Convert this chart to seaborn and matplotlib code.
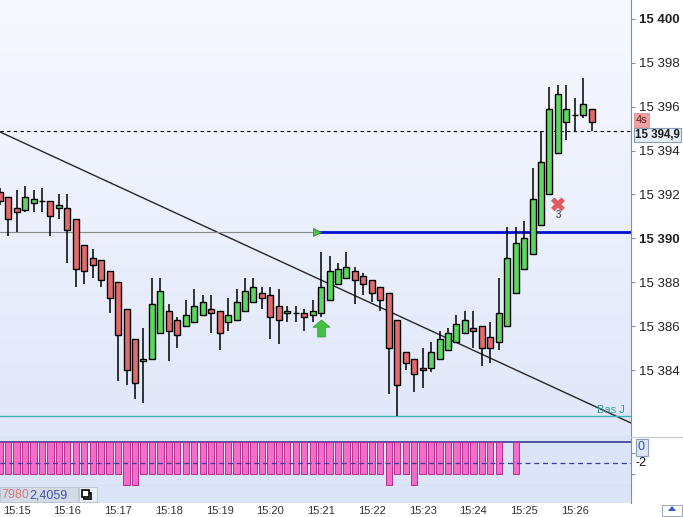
import numpy as np
import pandas as pd
import matplotlib
matplotlib.use("Agg")
import matplotlib.pyplot as plt
from matplotlib.path import Path
from matplotlib.patches import Rectangle, Polygon
from matplotlib.lines import Line2D
from matplotlib.colors import LinearSegmentedColormap
import seaborn as sns

# 10 second candles, first one opens at 15:14:40
start = "2023-01-01 15:14:40"
opens = [15392.1, 15391.9, 15391.4, 15391.3, 15391.6, 15391.7, 15391.7, 15391.4, 15391.4, 15390.9,
         15389.7, 15389.1, 15389.0, 15388.5, 15388.0, 15386.8, 15385.4, 15384.4, 15384.5, 15385.7,
         15386.7, 15386.3, 15386.0, 15386.2, 15386.5, 15386.8, 15386.7, 15386.2, 15386.3, 15386.7,
         15387.1, 15387.5, 15387.4, 15386.9, 15386.6, 15386.6, 15386.6, 15386.5, 15386.6, 15387.2,
         15387.9, 15388.2, 15388.5, 15388.3, 15388.1, 15387.8, 15387.5, 15386.3, 15384.8, 15384.5,
         15384.1, 15384.1, 15384.5, 15384.9, 15385.3, 15385.7, 15385.9, 15386.0, 15385.5, 15385.3,
         15386.0, 15387.5, 15388.6, 15389.3, 15390.6, 15392.0, 15393.9, 15395.3, 15395.6, 15395.6,
         15395.9]
highs = [15392.3, 15391.9, 15392.2, 15392.4, 15392.2, 15392.3, 15391.7, 15392.0, 15392.0, 15390.9,
         15389.7, 15389.5, 15389.0, 15388.5, 15388.0, 15386.8, 15385.4, 15385.9, 15388.2, 15388.2,
         15387.0, 15386.4, 15387.2, 15387.7, 15387.4, 15387.4, 15386.7, 15387.3, 15387.7, 15388.2,
         15388.2, 15387.8, 15387.8, 15387.7, 15386.9, 15386.9, 15386.8, 15387.2, 15389.4, 15389.2,
         15388.9, 15389.4, 15388.7, 15388.4, 15388.1, 15387.8, 15387.5, 15386.3, 15384.8, 15384.5,
         15385.0, 15385.3, 15385.8, 15385.9, 15386.5, 15386.7, 15386.7, 15386.0, 15386.2, 15388.2,
         15390.5, 15390.5, 15390.8, 15393.2, 15394.9, 15396.9, 15397.0, 15397.0, 15396.4, 15397.3,
         15395.9]
lows = [15391.5, 15390.1, 15390.3, 15391.2, 15391.2, 15391.2, 15390.1, 15390.9, 15388.9, 15387.8,
        15387.9, 15388.2, 15387.8, 15386.6, 15383.5, 15383.3, 15382.7, 15382.5, 15384.5, 15385.7,
        15384.4, 15385.0, 15386.0, 15386.2, 15386.5, 15385.7, 15384.9, 15385.8, 15386.3, 15386.7,
        15387.1, 15386.8, 15385.4, 15385.2, 15386.2, 15386.2, 15385.8, 15386.2, 15386.4, 15387.2,
        15387.9, 15388.2, 15387.0, 15387.4, 15387.1, 15386.7, 15382.9, 15381.9, 15384.0, 15383.0,
        15383.2, 15383.9, 15384.5, 15384.9, 15385.3, 15385.7, 15385.0, 15384.2, 15384.3, 15384.9,
        15386.0, 15387.5, 15388.6, 15389.3, 15390.6, 15392.0, 15393.9, 15394.5, 15394.9, 15395.5,
        15394.9]
closes = [15391.7, 15390.9, 15391.2, 15391.9, 15391.8, 15391.7, 15391.0, 15391.5, 15390.4, 15388.6,
          15388.5, 15388.8, 15388.1, 15387.3, 15385.6, 15384.0, 15383.4, 15384.5, 15387.0, 15387.6,
          15385.8, 15385.6, 15386.5, 15386.9, 15387.1, 15386.6, 15385.7, 15386.5, 15387.1, 15387.6,
          15387.8, 15387.3, 15386.4, 15386.3, 15386.7, 15386.6, 15386.4, 15386.7, 15387.8, 15388.5,
          15388.6, 15388.7, 15388.1, 15387.9, 15387.5, 15387.2, 15385.0, 15383.3, 15384.3, 15383.8,
          15384.0, 15384.8, 15385.4, 15385.7, 15386.1, 15386.3, 15385.8, 15385.0, 15385.0, 15386.6,
          15389.1, 15389.8, 15390.0, 15391.8, 15393.5, 15395.9, 15396.6, 15395.9, 15395.6, 15396.1,
          15395.3]
# lower panel histogram (None = no bar)
indicator = [-3, -3, -3, -3, -3, -3, -3, -3, -3, -3,
             -3, -3, -3, -3, -3, -4, -4, -3, -3, -3,
             -3, -3, -3, -3, -3, -3, -3, -3, -3, -3,
             -3, -3, -3, -3, -3, -3, -3, -3, -3, -3,
             -3, -3, -3, -3, -3, -3, -4, -3, -3, -4,
             -3, -3, -3, -3, -3, -3, -3, -3, -3, -3,
             None, -3, None, None, None, None, None, None, None, None,
             None]

level_price = 15390.27          # horizontal level (grey then blue)
level_start_min = 5.91          # minutes after 15:15 where the level turns blue
trend_min = [0, 12]             # trendline anchors (minutes after 15:15)
trend_price = [15394.5, 15381.7]
last_price = 15394.9
day_low = 15381.9
signal_up = (6.0, 15385.9)      # green arrow under the 15:21 candle
signal_x = (10.667, 15391.55)   # red cross, label "3"
price_ticks = [15384, 15386, 15388, 15390, 15392, 15394, 15396, 15398, 15400]
time_labels = ["15:15", "15:16", "15:17", "15:18", "15:19", "15:20", "15:21",
               "15:22", "15:23", "15:24", "15:25", "15:26", ""]

sns.set_style("white")
plt.rcParams["font.family"] = ["Liberation Sans", "DejaVu Sans"]

times = pd.date_range(start, periods=len(opens), freq="10s")
df = pd.DataFrame({"t": times, "open": opens, "high": highs, "low": lows,
                   "close": closes, "ind": indicator})
df["x"] = (df["t"] - pd.Timestamp("2023-01-01 15:15:00")).dt.total_seconds() / 60

W, H = 683, 517
fig = plt.figure(figsize=(W / 100, H / 100), dpi=100)


def box(x0, y0, x1, y1):
    return [x0 / W, 1 - y1 / H, (x1 - x0) / W, (y1 - y0) / H]


def fx(px):
    return px / W


def fy(py):
    return 1 - py / H


ax = fig.add_axes(box(0, 0, 631, 437))
ax_ind = fig.add_axes(box(0, 437, 631, 486), sharex=ax)
ax_str = fig.add_axes(box(0, 486, 631, 503), sharex=ax)

XLIM = (-0.327, 12.106)
YLIM = (15380.95, 15400.86)

# gradient background
grad = LinearSegmentedColormap.from_list("bg", ["#F8F9FF", "#DFE7F9"])
ax.imshow(np.linspace(0, 1, 256)[:, None], aspect="auto", cmap=grad,
          extent=[XLIM[0], XLIM[1], YLIM[0], YLIM[1]], zorder=0)
ax_ind.set_facecolor("#DCE5F7")
ax_str.set_facecolor("#DCE5F7")

# candles
RED, GREEN = "#E36B6B", "#5FD65F"
colors = np.where(df["close"] > df["open"], GREEN,
                  np.where(df["close"] < df["open"], RED, "black"))
ax.vlines(df["x"], df["low"], df["high"], color="black", lw=1.1, zorder=3)
ax.bar(df["x"], df["close"] - df["open"], bottom=df["open"], width=0.118,
       color=colors, edgecolor="black", lw=1.0, zorder=4)

# lines
ax.axline((trend_min[0], trend_price[0]), (trend_min[1], trend_price[1]),
          color="#262626", lw=1.0, zorder=2)
ax.axhline(last_price, color="black", lw=0.8, ls=(0, (3, 3)), zorder=2)
ax.axhline(day_low, color="#3EB0B0", lw=1.0, zorder=2)
level = pd.DataFrame({"x": [XLIM[0], level_start_min, level_start_min, XLIM[1]],
                      "y": [level_price] * 4,
                      "part": ["old", "old", "new", "new"]})
sns.lineplot(data=level[level.part == "old"], x="x", y="y", color="#8A8A8A",
             lw=0.8, ax=ax, zorder=2)
sns.lineplot(data=level[level.part == "new"], x="x", y="y", color="#0010D0",
             lw=2.0, ax=ax, zorder=2)
ax.scatter([level_start_min], [level_price], marker=">", s=32, color="#4CC24C",
           edgecolor="#2E8B2E", lw=0.6, zorder=5)

# signals
arrow = Path([(-1, 0.15), (0, 1), (1, 0.15), (0.45, 0.15), (0.45, -1),
              (-0.45, -1), (-0.45, 0.15), (-1, 0.15)], closed=True)
ax.scatter([signal_up[0]], [signal_up[1]], marker=arrow, s=150, color="#45C045",
           edgecolor="#2F9A2F", lw=0.5, zorder=5)
ax.scatter([signal_x[0]], [signal_x[1]], marker="X", s=100, color="#E25B5B",
           edgecolor="none", zorder=5)
ax.text(signal_x[0], signal_x[1] - 0.5, "3", ha="center", va="center",
        fontsize=7, color="#333333", zorder=5)
ax.text(11.98, day_low + 0.28, "Bas J", ha="right", va="center",
        fontsize=8, color="#2E9E9E", zorder=5)

ax.set_xlim(XLIM)
ax.set_ylim(YLIM)
ax.yaxis.tick_right()
ax.set_yticks(price_ticks)
ax.set_yticklabels([f"{v:,}".replace(",", " ") for v in price_ticks])
for lab, v in zip(ax.get_yticklabels(), price_ticks):
    if v % 10 == 0:
        lab.set_fontweight("bold")
ax.tick_params(axis="y", direction="out", length=3, pad=3, colors="#7F8FA6",
               labelcolor="#222222", labelsize=9.5, right=True, left=False)
ax.tick_params(axis="x", bottom=False, labelbottom=False)
ax.set_xlabel("")
ax.set_ylabel("")

# indicator panel
ind = df.dropna(subset=["ind"])
ax_ind.bar(ind["x"], ind["ind"].astype(float), width=0.124, color="#F66CCA",
           edgecolor="#B3318E", lw=0.7, zorder=3)
ax_ind.axhline(0, color="#2B2B8C", lw=1.1, zorder=2)
ax_ind.axhline(-2, color="#3C3CA8", lw=0.9, ls=(0, (4, 3)), zorder=4)
ax_ind.set_ylim(-4.1, 0.44)
ax_ind.yaxis.tick_right()
ax_ind.set_yticks([-1, -3])
ax_ind.set_yticklabels([])
ax_ind.tick_params(axis="y", direction="out", length=3, colors="#7F8FA6",
                   right=True, left=False)
ax_ind.tick_params(axis="x", bottom=False, labelbottom=False)

# strip with time axis
ax_str.set_yticks([])
ax_str.set_xticks(range(13))
ax_str.set_xticklabels(time_labels)
ax_str.tick_params(axis="x", direction="out", length=2, pad=0, colors="#7F8FA6",
                   labelcolor="#333333", labelsize=8)

for a in (ax, ax_ind, ax_str):
    for side in ("left", "top"):
        a.spines[side].set_visible(False)
    a.spines["right"].set_color("#7F8FA6")
    a.spines["bottom"].set_color("#8898AA")
ax_str.spines["bottom"].set_visible(False)

# right side decorations
fig.add_artist(Line2D([fx(631), 1], [fy(437), fy(437)], color="#C8C8C8", lw=0.8))
fig.text(fx(636), fy(120), "4s", fontsize=8, color="#5A2020", va="center", ha="left",
         bbox=dict(boxstyle="square,pad=0.15", fc="#F2A2A2", ec="#E48C8C", lw=0.6))
fig.text(fx(635), fy(135), "15 394,9", fontsize=8.3, fontweight="bold", color="#1A1A1A",
         va="center", ha="left",
         bbox=dict(boxstyle="square,pad=0.12", fc="#E6EEF8", ec="#8C9CB0", lw=0.8))
fig.text(fx(638), fy(447), "0", fontsize=9, color="#3050C0", va="center", ha="left",
         bbox=dict(boxstyle="square,pad=0.2", fc="#DCE6F6", ec="#8C9CB0", lw=0.8))
fig.text(fx(636), fy(463), "-2", fontsize=9, color="#111111", va="center", ha="left")

# strip legend text
fig.add_artist(Rectangle((0, fy(502)), fx(78), fy(487) - fy(502),
                         transform=fig.transFigure, fc="#D3DCE6", ec="#B8C2CE", lw=0.6))
fig.text(fx(1), fy(495), "7980", fontsize=9, color="#D47A7A", va="center")
fig.text(fx(29), fy(495), "2,4059", fontsize=9, color="#4450B0", va="center")
fig.add_artist(Rectangle((fx(79), fy(502)), fx(18), fy(487) - fy(502),
                         transform=fig.transFigure, fc="#E8EEF6", ec="#B8C2CE", lw=0.6))
fig.add_artist(Rectangle((fx(84), fy(499)), fx(7), fy(493) - fy(499),
                         transform=fig.transFigure, fc="white", ec="black", lw=1.2))
fig.add_artist(Rectangle((fx(82), fy(497)), fx(7), fy(491) - fy(497) + 0.002,
                         transform=fig.transFigure, fc="white", ec="black", lw=1.2))

# corner icon
fig.add_artist(Rectangle((fx(662), 0.002), fx(20), fy(505) - 0.002,
                         transform=fig.transFigure, fc="white", ec="#9AA6B4", lw=0.7))
fig.add_artist(Polygon([(fx(668), fy(511)), (fx(672), fy(506)), (fx(676), fy(511))],
                       closed=True, transform=fig.transFigure, fc="#2A5BD7", ec="none"))

fig.savefig("out.png", dpi=100)
